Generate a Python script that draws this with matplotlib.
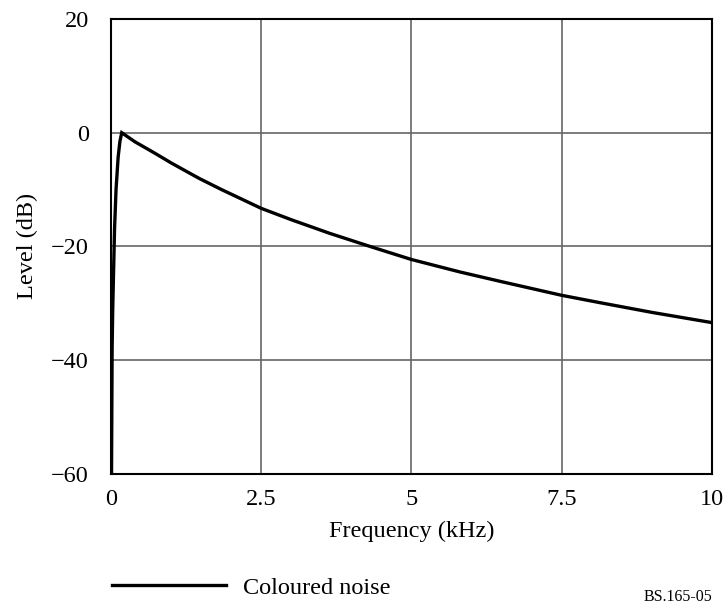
import matplotlib.pyplot as plt

# Values
freq_khz = [0.01, 0.02, 0.03, 0.045, 0.06, 0.085, 0.12, 0.15, 0.18,
            0.4, 0.73, 1.0, 1.29, 1.48, 1.84, 2.5, 3.0, 3.64, 4.31,
            5.0, 5.81, 6.5, 7.5, 8.14, 9.0, 10.0]
level_db = [-60, -38, -31, -24, -17, -10, -4.3, -1.5, 0,
            -1.6, -3.6, -5.3, -7.0, -8.1, -10.0, -13.3, -15.3, -17.7, -20,
            -22.3, -24.5, -26.2, -28.6, -29.9, -31.6, -33.4]

x_ticks = [0, 2.5, 5, 7.5, 10]
x_tick_labels = ["0", "2.5", "5", "7.5", "10"]
y_ticks = [-60, -40, -20, 0, 20]
y_tick_labels = ["\u221260", "\u221240", "\u221220", "0", "20"]

plt.rcParams['font.family'] = ['Liberation Serif', 'DejaVu Serif']

fig = plt.figure(figsize=(7.25, 6.13), dpi=100)
ax = fig.add_axes([0.153, 0.227, 0.829, 0.742])

line, = ax.plot(freq_khz, level_db, color='black', linewidth=2.4,
                solid_joinstyle='miter', label='Coloured noise')

ax.set_xlim(0, 10)
ax.set_ylim(-60, 20)
ax.set_xticks(x_ticks)
ax.set_xticklabels(x_tick_labels)
ax.set_yticks(y_ticks)
ax.set_yticklabels(y_tick_labels)
ax.tick_params(axis='both', length=0, labelsize=17.5)
ax.tick_params(axis='y', pad=16)
ax.tick_params(axis='x', pad=11)

ax.grid(True, color='0.4', linewidth=1.2)
ax.set_axisbelow(True)
for s in ax.spines.values():
    s.set_linewidth(1.5)
    s.set_color('black')

ax.set_xlabel("Frequency (kHz)", fontsize=17.5, labelpad=8)
ax.set_ylabel("Level (dB)", fontsize=17.5, labelpad=9)

fig.legend(handles=[line], loc='center left', bbox_to_anchor=(0.124, 0.041),
           frameon=False, fontsize=17.5, handlelength=4.7, handletextpad=0.7)

fig.text(0.982, 0.026, "BS.165-05", ha='right', va='center', fontsize=11.5)

fig.savefig('out.png', dpi=100)
